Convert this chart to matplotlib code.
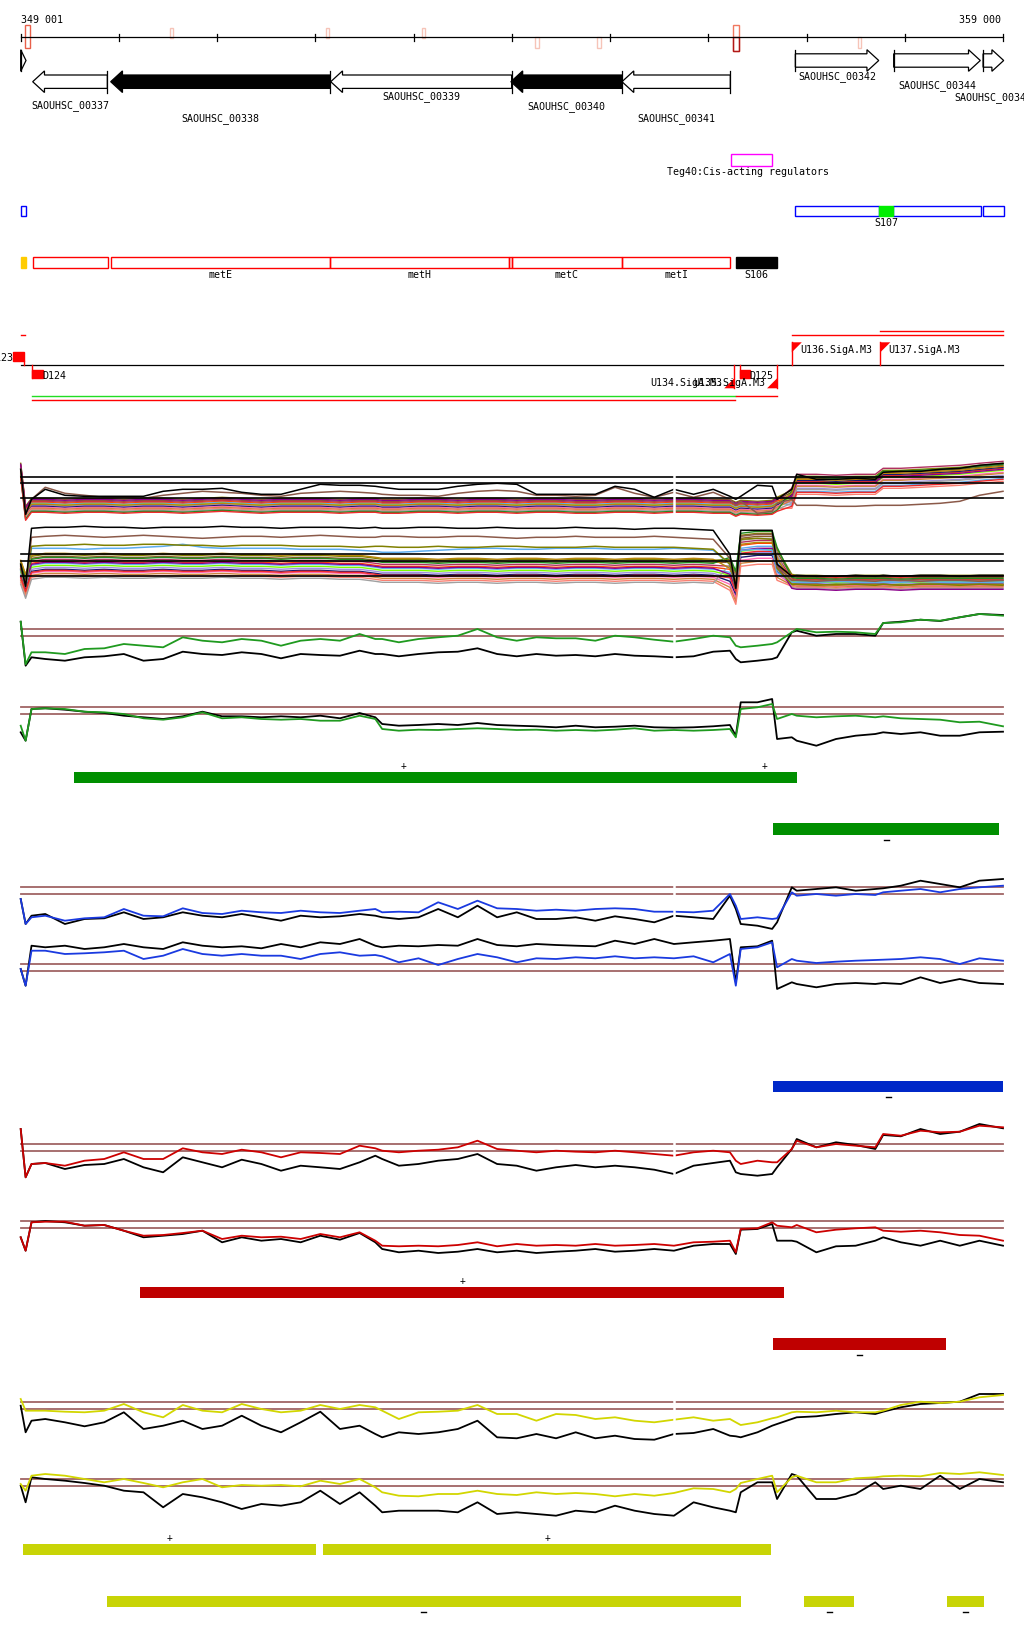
import matplotlib
matplotlib.use("Agg")
import matplotlib.pyplot as plt
from matplotlib.patches import Rectangle, Polygon

W, H = 1024, 1640
PX_PER_BP = 0.09823
X_LEFT = 349000 - 20.7 / PX_PER_BP
X_RIGHT = X_LEFT + W / PX_PER_BP
FONT = dict(family="DejaVu Sans Mono", fontsize=7.2)

# ---------------- data ----------------
REGION = (349000, 359000)
RULER_TICKS = list(range(349000, 359001, 1000))
RULER_LABELS = ["349 001", "359 000"]

MARK_START = [349047, 350520, 352108, 353085, 354239, 354870, 356251, 357524]
MARK_END = [349095, 350547, 352135, 353113, 354273, 354904, 356309, 357551]

GENE_NAMES = ["", "SAOUHSC_00337", "SAOUHSC_00338", "SAOUHSC_00339", "SAOUHSC_00340",
              "SAOUHSC_00341", "SAOUHSC_00342", "SAOUHSC_00344", "SAOUHSC_00345"]
GENE_START = [349000, 349122, 349916, 352156, 353990, 355121, 356886, 357887, 358797]
GENE_END = [349054, 349882, 352149, 353998, 355121, 356224, 357735, 358769, 359007]
GENE_STRAND = ["+", "-", "-", "-", "-", "-", "+", "+", "+"]
GENE_FILLED = [False, False, True, False, True, False, False, False, False]

TEG_NAME = "Teg40:Cis-acting regulators"
TEG_START, TEG_END = 356228, 356652

BLUE_START = [349000, 356886, 357882, 358797]
BLUE_END = [349051, 357735, 358775, 359007]
S107_START, S107_END = 357735, 357882

OPERON_START = [349128, 349916, 352149, 353973, 354000, 355121]
OPERON_END = [349885, 352149, 353973, 354000, 355121, 356224]
OPERON_NAMES = ["", "metE", "metH", "", "metC", "metI"]
YELLOW_START, YELLOW_END = 349000, 349051
S106_START, S106_END = 356282, 356698

TERM_NAMES = ["D123", "D124", "D125"]
TERM_POS = [349034, 349120, 356320]
TERM_SIDE = ["up", "down", "down"]

PROM_NAMES = ["U134.SigA.M3", "U135.SigA.M3", "U136.SigA.M3", "U137.SigA.M3"]
PROM_POS = [356264, 356700, 356850, 357751]
PROM_STRAND = ["-", "-", "+", "+"]

SPAN_START = [349115, 349115, 356282, 356850, 357751, 349000]
SPAN_END = [356268, 356268, 356700, 359000, 359000, 349045]

# tiling curves, sampled on a common grid
X = [349000, 349050, 349110, 349250, 349450, 349650, 349850, 350050, 350250, 350450,
     350650, 350850, 351050, 351250, 351450, 351650, 351850, 352050, 352250, 352450,
     352610, 352680, 352850, 353050, 353250, 353450, 353650, 353850, 354050, 354250,
     354450, 354650, 354850, 355050, 355250, 355450, 355650, 355850, 356050, 356220,
     356280, 356330, 356500, 356650, 356700, 356850, 356900, 357100, 357300, 357500,
     357700, 357780, 357960, 358160, 358360, 358560, 358760, 359000]
GAP_POS = 355650

BUNDLE_FWD_BASE = [47, 4, 12,
                   12, 11, 12, 12, 11, 12, 12, 11, 12, 13, 12, 11, 12, 12, 12, 11,
                   12, 12, 11, 11, 12, 12, 11, 12, 12, 11, 12, 12, 11, 11, 12, 12, 11, 12, 12, 11,
                   11, 8, 10, 9, 10, 13, 18, 32, 32, 31, 32, 32, 38, 38, 39, 40, 41, 43, 45]
BUNDLE_FWD_SHIFT_L = [7, 5, 4, 3, 2, 1, 0, -1, -2, -3, -4, -5, -6, 6, -7, 1]
BUNDLE_FWD_SHIFT_R = [9, 7, 11, 4, -6, 2, -3, 5, 0, -1, -9, -4, 8, 3, -7, 6]
BUNDLE_FWD_BLACK = [48, 3, 18, 28, 22, 21, 21, 21, 21, 26, 28, 28, 29, 25, 23, 23, 28, 33, 32, 32,
                    31, 30, 28, 28, 28, 31, 33, 34, 33, 23, 23, 23, 23, 31, 28, 20, 28, 23, 28, 21,
                    18, 21, 32, 31, 18, 28, 43, 38, 38, 39, 38, 45, 46, 46, 48, 49, 52, 54]
BUNDLE_FWD_BROWN = [48, 3, 18, 30, 24, 22, 20, 20, 19, 22, 24, 26, 25, 24, 22, 21, 24, 25, 26, 25,
                    24, 23, 22, 22, 21, 24, 26, 27, 26, 22, 22, 21, 22, 30, 24, 20, 25, 20, 25, 18,
                    12, 16, 4, 6, 14, 18, 12, 12, 11, 11, 12, 12, 12, 13, 14, 16, 22, 26]

BUNDLE_REV_BASE = [22, 8, 27,
                   29, 29, 28, 29, 28, 28, 29, 28, 28, 29, 28, 28, 27, 28, 28, 27, 27,
                   25, 24, 24, 24, 23, 24, 24, 23, 24, 24, 23, 24, 24, 23, 24, 24, 23, 24, 23,
                   20, 6, 44, 46, 46, 30, 13,
                   12, 12, 11, 12, 12, 12, 11, 12, 12, 12, 12, 12]
BUNDLE_REV_SHIFT_L = [11, 9, 6, 4, 2, 0, -2, -4, -6, -8, -10, -12, 8, 3, -5, 12]
BUNDLE_REV_SHIFT_M = [15, 12, 8, 5, 2, -1, -4, -7, -10, -13, -16, 10, 17, 0, -3, 6]
BUNDLE_REV_SHIFT_R = [7, 5, 3, 2, 1, 0, -1, -2, -3, -4, -5, -6, 4, -7, 6, -2]
BUNDLE_REV_BLACK = [30, 8, 66,
                    67, 67, 68, 67, 67, 66, 67, 67, 67, 68, 67, 67, 66, 67, 67, 67, 66, 67,
                    66, 66, 67, 67, 66, 66, 67, 66, 66, 66, 67, 66, 66, 65, 66, 66, 65, 64,
                    40, 6, 64, 64, 64, 30, 18,
                    19, 18, 18, 19, 18, 19, 18, 19, 19, 18, 19, 19]
BUNDLE_REV_BROWN = [28, 8, 57,
                    58, 59, 58, 57, 58, 59, 58, 57, 56, 57, 58, 58, 57, 58, 59, 58, 57, 57,
                    58, 58, 57, 57, 58, 58, 57, 56, 57, 57, 58, 57, 57, 57, 58, 57, 56, 55,
                    36, 6, 58, 60, 60, 28, 14,
                    14, 13, 14, 14, 13, 14, 14, 13, 14, 14, 13, 14]
BUNDLE_REV_OLIVE = [25, 8, 48,
                    49, 49, 50, 49, 49, 50, 50, 49, 49, 48, 49, 49, 49, 48, 48, 48, 47, 48,
                    48, 47, 47, 48, 47, 47, 48, 48, 47, 47, 47, 48, 47, 47, 47, 47, 46, 45,
                    30, 6, 55, 56, 55, 26, 10,
                    10, 9, 10, 10, 9, 10, 9, 10, 10, 9, 10, 9]
BUNDLE_REV_LTBLUE = [24, 8, 46,
                     46, 46, 45, 46, 46, 47, 48, 50, 47, 46, 46, 46, 46, 45, 45, 45, 44, 43,
                     42, 42, 43, 44, 45, 46, 46, 45, 45, 46, 46, 46, 45, 45, 45, 46, 45, 44,
                     30, 6, 44, 45, 44, 22, 12,
                     12, 12, 13, 12, 12, 12, 12, 13, 12, 12, 12, 12]

GREEN_FWD = [47.6, 5.0, 17.0, 17.0, 15.3, 20.3, 21.0, 25.3, 23.6, 22.0,
             32.0, 28.6, 27.0, 30.3, 28.6, 23.6, 28.6, 30.3, 28.6, 35.3,
             30.3, 30.3, 27.0, 30.3, 32.0, 33.6, 40.3, 32.0, 28.6, 32.0,
             31.0, 31.0, 28.6, 33.6, 32.0, 29.6, 27.6, 30.3, 33.6, 32.0,
             23.6, 22.0, 23.6, 25.3, 27.0, 37.0, 40.3, 37.0, 37.6, 37.0,
             35.3, 46.3, 47.0, 49.6, 48.6, 52.0, 55.3, 53.6]
GREEN_FWD_BLACK = [47.6, 3.6, 12.0, 10.3, 8.6, 12.0, 13.0, 15.3, 8.6, 10.3,
                   17.6, 15.3, 14.3, 17.0, 15.3, 11.0, 15.3, 14.3, 13.6, 18.6,
                   15.3, 15.3, 13.0, 15.3, 17.0, 17.6, 21.0, 15.3, 13.0, 15.3,
                   13.6, 14.3, 13.0, 15.3, 13.6, 13.0, 12.0, 13.0, 17.6, 18.6,
                   10.3, 7.0, 8.6, 10.3, 12.0, 37.0, 38.6, 33.6, 35.3, 35.3,
                   33.6, 46.3, 47.6, 49.6, 48.3, 52.0, 55.3, 54.3]
GREEN_REV = [21.6, 6.6, 38.3, 39.0, 38.3, 35.6, 35.0, 33.3, 29.0, 27.6,
             30.0, 35.0, 29.0, 30.0, 28.3, 27.6, 28.3, 26.6, 26.6, 31.6,
             28.3, 18.3, 16.6, 17.6, 17.3, 18.3, 19.0, 18.3, 17.3, 17.6,
             16.6, 17.3, 16.6, 17.6, 19.0, 16.6, 17.3, 16.6, 17.3, 18.3,
             10.0, 38.3, 40.0, 43.3, 28.3, 33.3, 31.6, 30.0, 31.0, 31.6,
             30.0, 31.0, 29.0, 28.3, 27.6, 25.0, 25.6, 21.0]
GREEN_REV_BLACK = [15.0, 6.6, 38.3, 39.0, 37.6, 35.6, 34.3, 31.6, 30.0, 28.3,
                   31.0, 35.6, 31.0, 31.0, 30.0, 31.0, 30.0, 31.6, 29.0, 34.3,
                   30.0, 23.3, 21.6, 22.3, 23.3, 22.3, 24.3, 22.3, 21.6, 21.0,
                   20.0, 21.6, 20.0, 20.6, 21.6, 20.0, 19.6, 20.0, 21.0, 22.3,
                   11.6, 45.0, 45.0, 48.3, 8.3, 10.0, 6.6, 1.6, 8.3, 11.6,
                   13.3, 15.0, 13.3, 15.0, 11.6, 11.6, 15.0, 15.6]
BLUE_FWD = [28.3, 3.3, 10.0, 11.6, 6.6, 9.0, 10.0, 18.3, 11.6, 11.0,
            19.0, 14.3, 13.3, 16.6, 15.0, 14.3, 16.6, 15.0, 14.3, 16.6,
            18.3, 15.0, 15.6, 15.0, 25.0, 18.3, 26.6, 19.0, 18.3, 16.6,
            17.6, 16.6, 18.3, 19.0, 18.3, 15.6, 15.6, 15.0, 16.6, 33.3,
            21.6, 8.3, 10.0, 8.3, 9.0, 35.0, 31.6, 33.3, 31.6, 33.3,
            32.3, 35.0, 36.6, 38.3, 35.0, 38.3, 40.0, 41.6]
BLUE_FWD_BLACK = [28.3, 3.3, 11.6, 13.3, 3.3, 8.3, 9.0, 15.0, 8.3, 10.0,
                  15.0, 11.6, 10.0, 13.3, 10.0, 6.6, 11.6, 10.0, 11.0, 13.3,
                  11.6, 10.0, 8.3, 10.0, 18.3, 10.0, 21.6, 10.0, 15.0, 8.3,
                  8.3, 10.0, 6.6, 11.0, 8.3, 5.0, 11.6, 10.0, 8.3, 31.6,
                  18.3, 3.3, 1.6, -1.6, 5.0, 40.0, 36.6, 38.3, 40.0, 36.6,
                  38.3, 39.0, 41.6, 46.6, 43.3, 40.0, 46.6, 48.3]
BLUE_REV = [35.3, 18.6, 53.6, 53.6, 50.3, 51.0, 52.0, 53.6, 45.3, 48.6,
            55.3, 50.3, 48.6, 50.3, 48.6, 48.6, 45.3, 50.3, 52.0, 48.6,
            49.3, 48.0, 42.0, 46.0, 39.3, 45.3, 50.3, 47.0, 42.0, 46.0,
            45.3, 47.0, 46.0, 48.0, 46.0, 47.0, 46.0, 48.0, 42.0, 50.3,
            18.6, 55.3, 57.0, 62.0, 37.0, 45.3, 43.6, 41.3, 42.6, 43.6,
            44.3, 44.6, 45.3, 47.0, 45.3, 40.3, 46.0, 43.6]
BLUE_REV_BLACK = [35.3, 18.6, 58.6, 57.0, 58.6, 55.3, 57.0, 60.3, 57.0, 55.3,
                  62.0, 58.6, 57.0, 58.0, 56.0, 60.3, 57.0, 62.0, 60.3, 65.3,
                  58.6, 57.0, 58.6, 58.0, 59.3, 58.6, 65.3, 59.3, 58.0, 60.3,
                  59.3, 58.6, 58.0, 63.6, 60.3, 65.3, 60.3, 62.0, 63.6, 65.3,
                  22.0, 57.0, 58.0, 63.6, 15.3, 22.0, 20.3, 17.0, 20.3, 21.3,
                  20.3, 21.3, 20.3, 27.0, 21.3, 25.3, 21.3, 20.3]
RED_FWD = [55.3, 7.0, 20.3, 21.3, 18.6, 23.6, 25.3, 32.0, 25.3, 25.3,
           36.0, 32.0, 30.3, 34.6, 32.0, 27.0, 32.0, 31.3, 30.3, 38.6,
           36.0, 33.6, 32.0, 33.6, 34.6, 37.0, 43.6, 35.3, 33.6, 32.0,
           33.6, 32.6, 32.0, 33.6, 32.0, 30.3, 28.6, 32.0, 33.6, 32.0,
           23.6, 20.3, 23.6, 22.0, 22.0, 35.3, 43.6, 37.0, 40.3, 38.6,
           37.0, 50.3, 48.6, 53.6, 52.0, 52.6, 58.6, 57.0]
RED_FWD_BLACK = [55.3, 7.0, 20.3, 21.3, 15.3, 19.3, 20.3, 25.3, 17.0, 12.0,
                 27.0, 22.0, 17.0, 24.6, 20.3, 13.6, 18.6, 17.0, 15.3, 22.0,
                 28.6, 25.3, 18.6, 20.3, 23.6, 25.3, 30.3, 20.3, 18.6, 13.6,
                 17.0, 19.3, 17.0, 18.6, 17.0, 14.6, 10.3, 18.6, 21.3, 23.6,
                 12.0, 10.3, 8.6, 10.3, 17.0, 35.3, 45.3, 37.0, 42.0, 39.3,
                 35.3, 49.3, 48.0, 55.3, 50.3, 52.6, 60.3, 56.0]
RED_REV = [24.0, 10.6, 39.0, 39.6, 39.6, 35.6, 36.3, 30.6, 25.6, 26.3,
           28.3, 30.6, 22.3, 25.6, 24.0, 24.6, 22.3, 27.3, 24.0, 29.0,
           20.6, 15.6, 15.0, 15.6, 15.0, 16.3, 19.0, 15.0, 17.3, 15.6,
           16.3, 15.6, 17.3, 15.6, 16.3, 17.3, 15.6, 19.0, 19.6, 20.6,
           9.0, 32.3, 33.0, 39.0, 35.6, 34.0, 36.3, 29.0, 31.6, 33.0,
           34.0, 30.6, 29.6, 30.6, 29.0, 26.3, 25.6, 20.6]
RED_REV_BLACK = [24.0, 10.6, 39.0, 40.3, 39.0, 35.6, 36.3, 30.6, 24.0, 25.6,
                 27.3, 30.6, 19.0, 24.0, 20.6, 22.3, 19.0, 25.6, 21.6, 28.3,
                 19.0, 12.3, 9.0, 10.6, 8.3, 9.6, 12.3, 9.0, 10.6, 8.3,
                 9.6, 10.6, 12.3, 9.6, 10.6, 12.3, 10.6, 15.6, 17.3, 17.3,
                 7.3, 31.6, 32.3, 37.3, 20.6, 20.6, 19.6, 9.0, 15.0, 15.6,
                 20.6, 24.0, 19.0, 15.6, 20.6, 15.6, 20.6, 15.6]
YELLOW_FWD = [43.3, 31.6, 31.6, 31.6, 30.6, 30.0, 31.6, 38.3, 30.0, 25.0,
              37.3, 31.6, 30.0, 38.3, 33.3, 30.0, 31.6, 37.3, 33.3, 37.3,
              35.0, 31.6, 23.3, 30.0, 30.6, 31.6, 37.3, 28.3, 28.3, 21.6,
              28.3, 27.3, 23.3, 25.0, 21.6, 20.0, 22.6, 25.0, 21.6, 23.3,
              20.0, 17.3, 20.0, 24.0, 25.0, 30.0, 30.6, 30.0, 31.6, 30.0,
              30.0, 31.6, 37.3, 40.6, 39.3, 40.6, 45.0, 47.3]
YELLOW_FWD_BLACK = [36.6, 10.0, 21.6, 23.3, 20.0, 16.0, 20.0, 30.0, 13.3, 16.6,
                    21.6, 13.3, 16.6, 26.6, 16.6, 10.0, 20.0, 30.6, 13.3, 16.6,
                    8.3, 5.0, 10.0, 8.3, 10.0, 13.3, 21.6, 5.0, 4.0, 8.3,
                    4.0, 10.0, 4.0, 6.6, 3.3, 2.6, 8.3, 9.3, 13.3, 6.6,
                    6.0, 5.0, 10.0, 16.6, 18.3, 23.3, 25.0, 26.0, 28.3, 30.0,
                    28.3, 30.6, 35.0, 38.3, 39.3, 40.6, 48.3, 48.3]
YELLOW_REV = [35.3, 28.6, 43.6, 45.3, 43.6, 40.3, 37.0, 40.3, 36.3, 32.0,
              37.0, 40.3, 32.0, 34.3, 33.6, 34.3, 33.0, 38.6, 35.3, 40.3,
              32.0, 27.0, 23.6, 23.0, 25.3, 25.3, 28.6, 25.3, 24.3, 27.0,
              25.3, 26.3, 25.3, 23.0, 25.3, 23.6, 26.3, 31.0, 30.3, 27.0,
              30.3, 36.3, 40.3, 43.6, 27.0, 42.0, 43.6, 37.0, 37.0, 41.0,
              42.0, 43.0, 43.6, 43.0, 46.3, 45.3, 47.0, 44.3]
YELLOW_REV_BLACK = [33.6, 17.0, 42.0, 40.3, 38.6, 36.3, 33.6, 28.6, 27.0, 12.0,
                    25.3, 22.0, 17.0, 10.3, 15.3, 13.6, 17.0, 28.6, 15.3, 27.0,
                    13.6, 7.0, 8.6, 8.6, 8.6, 7.0, 17.0, 5.3, 7.0, 5.3,
                    3.6, 8.6, 7.0, 13.6, 8.6, 5.3, 3.6, 17.0, 12.0, 8.6,
                    7.0, 27.0, 37.0, 37.0, 20.3, 45.3, 43.6, 20.3, 20.3, 25.3,
                    37.0, 30.3, 33.6, 30.3, 43.6, 30.3, 40.3, 37.0]
PAIR_REFS = [40, 33]
BUNDLE_FWD_REFS = [40, 34, 19]
BUNDLE_REV_REFS = [40, 33, 18]

# segment bars under each pair of panels
GREEN_PLUS = ([349540, 356248], [356248, 356901])
GREEN_MINUS = ([356662], [358962])
BLUE_MINUS = ([356662], [359000])
RED_PLUS = ([350212], [356774])
RED_MINUS = ([356662], [358424])
YELLOW_PLUS = ([349022, 352080], [352006, 356641])
YELLOW_MINUS = ([349880, 356974, 358432], [356329, 357485, 358810])

BUNDLE_COLORS = ["#808000", "#8b5a2b", "#b03060", "#ff4500", "#5cacee", "#7cfc00",
                 "#a090e0", "#191970", "#ff69b4", "#cd853f", "#fa8072", "#a0a0a0",
                 "#228b22", "#8b008b", "#ee2c2c", "#b8860b"]
REF_COLOR = "#a06464"


def w(px):
    return px / PX_PER_BP


fig = plt.figure(figsize=(W / 100, H / 100), dpi=100, facecolor="white")
ax = fig.add_axes([0, 0, 1, 1])
ax.set_xlim(X_LEFT, X_RIGHT)
ax.set_ylim(H, 0)
ax.axis("off")

# ruler
ax.plot(REGION, [38.3, 38.3], color="black", lw=0.9)
for t in RULER_TICKS:
    ax.plot([t, t], [35, 41.5], color="black", lw=0.9)
ax.text(REGION[0], 20, RULER_LABELS[0], ha="left", va="center", **FONT)
ax.text(REGION[1] - w(2), 20, RULER_LABELS[1], ha="right", va="center", **FONT)
mark_y = [(26.3, 49.3), (29.3, 39.3), (29.3, 39.3), (29.3, 39.3),
          (37.7, 49.3), (37.7, 49.3), (26.3, 52.3), (37.7, 48.7)]
mark_c = ["#e8604a", "#f6c4b8", "#f6c4b8", "#f6c4b8", "#f6c4b8", "#f6c4b8", "#f07860", "#f6c4b8"]
for s, e, (y0, y1), c in zip(MARK_START, MARK_END, mark_y, mark_c):
    ax.add_patch(Rectangle((s, y0), e - s, y1 - y0, fill=False, ec=c, lw=1))
ax.add_patch(Rectangle((MARK_START[6], 38.3), MARK_END[6] - MARK_START[6], 14,
                       fill=False, ec="#b01818", lw=1))

# genes
head = 120
label_y = [None, 106, 118.3, 97, 106.7, 118.3, 76.7, 85.7, 97.3]
for name, s, e, st, f, ly in zip(GENE_NAMES, GENE_START, GENE_END, GENE_STRAND, GENE_FILLED, label_y):
    yc = 61.5 if st == "+" else 82.7
    bh, hh = 6.7, 10.8
    hl = min(head, e - s)
    if st == "+":
        hb = e - hl
        pts = [(s, yc - bh), (hb, yc - bh), (hb, yc - hh), (e, yc), (hb, yc + hh), (hb, yc + bh), (s, yc + bh)]
        bar = s
    else:
        hb = s + hl
        pts = [(e, yc - bh), (hb, yc - bh), (hb, yc - hh), (s, yc), (hb, yc + hh), (hb, yc + bh), (e, yc + bh)]
        bar = e
    ax.add_patch(Polygon(pts, closed=True, fc="black" if f else "white", ec="black", lw=0.9))
    ax.plot([bar, bar], [yc - hh, yc + hh], color="black", lw=0.9)
    if name:
        ax.text((s + e) / 2, ly, name, ha="center", va="center", **FONT)

# Teg40
ax.add_patch(Rectangle((TEG_START, 155), TEG_END - TEG_START, 11.7, fill=False, ec="#ff00ff", lw=1))
ax.text((TEG_START + TEG_END) / 2 + w(-4), 172.3, TEG_NAME, ha="center", va="center", **FONT)

# S107 track
for s, e in zip(BLUE_START, BLUE_END):
    ax.add_patch(Rectangle((s, 206.7), e - s, 10.6, fill=False, ec="#0000ff", lw=1))
ax.add_patch(Rectangle((S107_START, 206.7), S107_END - S107_START, 10.6, fc="#00ee00", ec="#00ee00", lw=1))
ax.text((S107_START + S107_END) / 2, 223.3, "S107", ha="center", va="center", **FONT)

# operon / S106 track
ax.add_patch(Rectangle((YELLOW_START, 258), YELLOW_END - YELLOW_START, 10.7, fc="#ffcc00", ec="#ffcc00"))
for s, e, n in zip(OPERON_START, OPERON_END, OPERON_NAMES):
    ax.add_patch(Rectangle((s, 258), e - s, 10.7, fill=False, ec="#ff0000", lw=1))
    if n:
        ax.text((s + e) / 2, 275, n, ha="center", va="center", **FONT)
ax.add_patch(Rectangle((S106_START, 258), S106_END - S106_START, 10.7, fc="black", ec="black"))
ax.text((S106_START + S106_END) / 2, 275, "S106", ha="center", va="center", **FONT)

# promoters / terminators
ax.plot(REGION, [366.3, 366.3], color="black", lw=0.9)
for n, p, side in zip(TERM_NAMES, TERM_POS, TERM_SIDE):
    if side == "up":
        ax.add_patch(Rectangle((p - w(10.7), 352.7), w(10.7), 9, fc="#ff0000", ec="#ff0000"))
        ax.plot([p, p], [361.7, 366.3], color="#ff0000", lw=1)
        ax.text(p - w(11), 358.3, n, ha="right", va="center", **FONT)
    else:
        ax.add_patch(Rectangle((p, 370.7), w(10.7), 8.6, fc="#ff0000", ec="#ff0000"))
        ax.plot([p, p], [366.3, 379.3], color="#ff0000", lw=1)
        ax.text(p + w(9.6), 376, n, ha="left", va="center", **FONT)
for n, p, st in zip(PROM_NAMES, PROM_POS, PROM_STRAND):
    if st == "+":
        ax.plot([p, p], [343.3, 366.3], color="#ff0000", lw=1)
        ax.add_patch(Polygon([(p, 343.3), (p + w(10), 343.3), (p, 353.3)], fc="#ff0000", ec="none"))
        ax.text(p + w(8.3), 350, n, ha="left", va="center", **FONT)
    else:
        ax.plot([p, p], [366.3, 389.3], color="#ff0000", lw=1)
        ax.add_patch(Polygon([(p, 389.3), (p - w(10), 389.3), (p, 379.3)], fc="#ff0000", ec="none"))
        ax.text(p - w(12), 382.7, n, ha="right", va="center", **FONT)
span_y = [397.3, 401.3, 397.3, 336.3, 331.7, 336.3]
span_c = ["#22dd22", "#ff0000", "#ff0000", "#ff0000", "#ff0000", "#ff0000"]
for s, e, y, c in zip(SPAN_START, SPAN_END, span_y, span_c):
    ax.plot([s, e], [y, y], color=c, lw=1)


# signal panels
def panel(bottom):
    a = fig.add_axes([0, 1 - (bottom + 30) / H, 1, 110 / H])
    a.set_xlim(X_LEFT, X_RIGHT)
    a.set_ylim(-30, 80)
    a.axis("off")
    return a


def pair_panel(bottom, col_vals, blk_vals, color, gap):
    a = panel(bottom)
    for r in PAIR_REFS:
        a.plot(REGION, [r, r], color=REF_COLOR, lw=1.3)
    a.plot(X, blk_vals, color="black", lw=1.3, clip_on=False)
    a.plot(X, col_vals, color=color, lw=1.3, clip_on=False)
    if gap:
        a.plot([GAP_POS, GAP_POS], [-5, 58], color="white", lw=1.8)


def bundle_panel(bottom, base, shifts, outliers, refs, gap):
    a = panel(bottom)
    left, mid, right = shifts
    for k, c in enumerate(BUNDLE_COLORS):
        vals = []
        for i, b in enumerate(base):
            sh = left[k] if i < 39 else (mid[k] if i < 45 else right[k])
            vals.append(b + sh)
        a.plot(X, vals, color=c, lw=1.0, clip_on=False)
    for vals, c in outliers:
        a.plot(X, vals, color=c, lw=1.1, clip_on=False)
    for r in refs:
        a.plot(REGION, [r, r], color="black", lw=1.2)
    if gap:
        a.plot([GAP_POS, GAP_POS], [-5, 58], color="white", lw=1.8)


bundle_panel(518.3, BUNDLE_FWD_BASE, (BUNDLE_FWD_SHIFT_L, BUNDLE_FWD_SHIFT_L, BUNDLE_FWD_SHIFT_R),
             [(BUNDLE_FWD_BROWN, "#8b5a4a"), (BUNDLE_FWD_BLACK, "black")], BUNDLE_FWD_REFS, True)
bundle_panel(595.3, BUNDLE_REV_BASE, (BUNDLE_REV_SHIFT_L, BUNDLE_REV_SHIFT_M, BUNDLE_REV_SHIFT_R),
             [(BUNDLE_REV_LTBLUE, "#5cacee"), (BUNDLE_REV_OLIVE, "#808000"),
              (BUNDLE_REV_BROWN, "#8b5a4a"), (BUNDLE_REV_BLACK, "black")], BUNDLE_REV_REFS, False)

pair_panel(670.3, GREEN_FWD, GREEN_FWD_BLACK, "#1f9a1f", True)
pair_panel(748.3, GREEN_REV, GREEN_REV_BLACK, "#1f9a1f", False)
pair_panel(928.3, BLUE_FWD, BLUE_FWD_BLACK, "#1a3ae0", True)
pair_panel(1005.3, BLUE_REV, BLUE_REV_BLACK, "#1a3ae0", False)
pair_panel(1185.3, RED_FWD, RED_FWD_BLACK, "#cc0000", True)
pair_panel(1262.3, RED_REV, RED_REV_BLACK, "#cc0000", False)
pair_panel(1443.3, YELLOW_FWD, YELLOW_FWD_BLACK, "#d2d600", True)
pair_panel(1520.3, YELLOW_REV, YELLOW_REV_BLACK, "#d2d600", False)


# segment bars
def bars(segs, y0, y1, color, sign):
    for s, e in zip(*segs):
        ax.add_patch(Rectangle((s, y0), e - s, y1 - y0, fc=color, ec="none"))
        if sign == "+":
            ax.text((s + e) / 2, y0 - 7, "+", ha="center", va="center",
                    family="DejaVu Sans Mono", fontsize=7)
        else:
            ax.plot([(s + e) / 2 - w(2.5), (s + e) / 2 + w(2.5)], [y1 + 5.5, y1 + 5.5],
                    color="black", lw=1.0)


bars(GREEN_PLUS, 773, 783.7, "#008f00", "+")
bars(GREEN_MINUS, 824, 835.7, "#008f00", "-")
bars(BLUE_MINUS, 1082, 1092.7, "#0028c8", "-")
bars(RED_PLUS, 1288, 1298.7, "#bf0000", "+")
bars(RED_MINUS, 1339, 1350.7, "#bf0000", "-")
bars(YELLOW_PLUS, 1545, 1555.7, "#c8d406", "+")
bars(YELLOW_MINUS, 1597, 1607.7, "#c8d406", "-")

fig.savefig("out.png", dpi=100, facecolor="white")
